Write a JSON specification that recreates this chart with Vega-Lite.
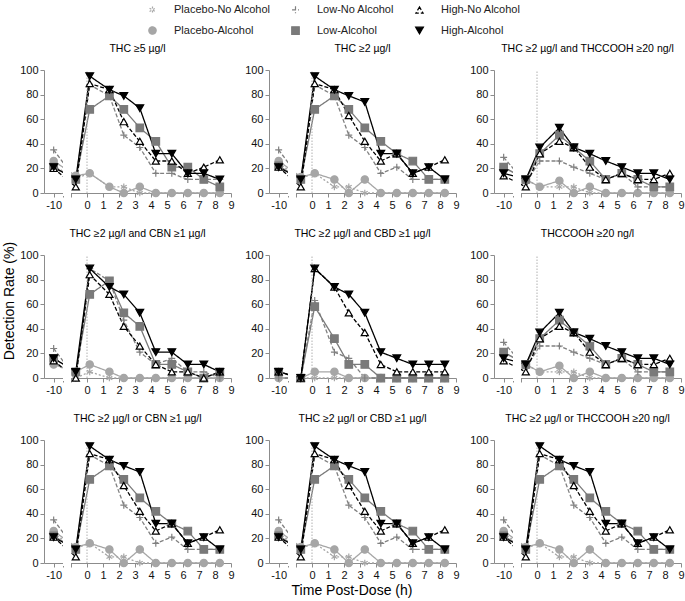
{
"$schema": "https://vega.github.io/schema/vega-lite/v6.json",
"background": "white",
"padding": {"left": 2, "top": 4, "right": 0, "bottom": 2},
"config": {
  "font": "Liberation Sans",
  "view": {"stroke": null},
  "axis": {"labelOverlap": false},
  "legend": {"orient": "none", "legendX": 102, "legendY": -66, "columns": 3, "direction": "horizontal", "labelFontSize": 11, "labelFont": "Liberation Sans", "labelColor": "#222", "columnPadding": 18, "rowPadding": 8, "symbolStrokeWidth": 1.2, "labelOffset": 16, "symbolOffset": 1}
},
"title": {"text": "Detection Rate (%)", "orient": "left", "anchor": "middle", "fontSize": 14, "fontWeight": "normal", "font": "Liberation Sans", "color": "#000", "offset": 3},
"data": {"values": [
{"panel":"THC ≥5 µg/l","t":-10,"Placebo-No Alcohol":22,"Placebo-Alcohol":26,"Low-No Alcohol":35,"Low-Alcohol":21,"High-No Alcohol":20,"High-Alcohol":21},
{"panel":"THC ≥5 µg/l","t":-0.7,"Placebo-No Alcohol":12,"Placebo-Alcohol":14,"Low-No Alcohol":11,"Low-Alcohol":11,"High-No Alcohol":5,"High-Alcohol":11},
{"panel":"THC ≥5 µg/l","t":0.17,"Placebo-No Alcohol":16,"Placebo-Alcohol":16,"Low-No Alcohol":88,"Low-Alcohol":68,"High-No Alcohol":89,"High-Alcohol":95},
{"panel":"THC ≥5 µg/l","t":1.4,"Placebo-No Alcohol":5,"Placebo-Alcohol":5,"Low-No Alcohol":79,"Low-Alcohol":79,"High-No Alcohol":84,"High-Alcohol":84},
{"panel":"THC ≥5 µg/l","t":2.3,"Placebo-No Alcohol":5,"Placebo-Alcohol":0,"Low-No Alcohol":47,"Low-Alcohol":68,"High-No Alcohol":58,"High-Alcohol":79},
{"panel":"THC ≥5 µg/l","t":3.3,"Placebo-No Alcohol":0,"Placebo-Alcohol":5,"Low-No Alcohol":37,"Low-Alcohol":53,"High-No Alcohol":42,"High-Alcohol":69},
{"panel":"THC ≥5 µg/l","t":4.3,"Placebo-No Alcohol":0,"Placebo-Alcohol":0,"Low-No Alcohol":16,"Low-Alcohol":42,"High-No Alcohol":26,"High-Alcohol":32},
{"panel":"THC ≥5 µg/l","t":5.3,"Placebo-No Alcohol":0,"Placebo-Alcohol":0,"Low-No Alcohol":16,"Low-Alcohol":21,"High-No Alcohol":26,"High-Alcohol":32},
{"panel":"THC ≥5 µg/l","t":6.3,"Placebo-No Alcohol":0,"Placebo-Alcohol":0,"Low-No Alcohol":11,"Low-Alcohol":21,"High-No Alcohol":16,"High-Alcohol":16},
{"panel":"THC ≥5 µg/l","t":7.3,"Placebo-No Alcohol":0,"Placebo-Alcohol":0,"Low-No Alcohol":11,"Low-Alcohol":11,"High-No Alcohol":21,"High-Alcohol":16},
{"panel":"THC ≥5 µg/l","t":8.3,"Placebo-No Alcohol":0,"Placebo-Alcohol":0,"Low-No Alcohol":11,"Low-Alcohol":5,"High-No Alcohol":27,"High-Alcohol":11},

{"panel":"THC ≥2 µg/l","t":-10,"Placebo-No Alcohol":24,"Placebo-Alcohol":26,"Low-No Alcohol":35,"Low-Alcohol":22,"High-No Alcohol":21,"High-Alcohol":21},
{"panel":"THC ≥2 µg/l","t":-0.7,"Placebo-No Alcohol":12,"Placebo-Alcohol":13,"Low-No Alcohol":11,"Low-Alcohol":11,"High-No Alcohol":5,"High-Alcohol":11},
{"panel":"THC ≥2 µg/l","t":0.17,"Placebo-No Alcohol":16,"Placebo-Alcohol":16,"Low-No Alcohol":88,"Low-Alcohol":68,"High-No Alcohol":89,"High-Alcohol":95},
{"panel":"THC ≥2 µg/l","t":1.4,"Placebo-No Alcohol":5,"Placebo-Alcohol":11,"Low-No Alcohol":79,"Low-Alcohol":79,"High-No Alcohol":84,"High-Alcohol":84},
{"panel":"THC ≥2 µg/l","t":2.3,"Placebo-No Alcohol":5,"Placebo-Alcohol":0,"Low-No Alcohol":47,"Low-Alcohol":68,"High-No Alcohol":63,"High-Alcohol":79},
{"panel":"THC ≥2 µg/l","t":3.3,"Placebo-No Alcohol":0,"Placebo-Alcohol":11,"Low-No Alcohol":37,"Low-Alcohol":53,"High-No Alcohol":42,"High-Alcohol":74},
{"panel":"THC ≥2 µg/l","t":4.3,"Placebo-No Alcohol":0,"Placebo-Alcohol":0,"Low-No Alcohol":16,"Low-Alcohol":42,"High-No Alcohol":26,"High-Alcohol":32},
{"panel":"THC ≥2 µg/l","t":5.3,"Placebo-No Alcohol":0,"Placebo-Alcohol":0,"Low-No Alcohol":21,"Low-Alcohol":32,"High-No Alcohol":32,"High-Alcohol":32},
{"panel":"THC ≥2 µg/l","t":6.3,"Placebo-No Alcohol":0,"Placebo-Alcohol":0,"Low-No Alcohol":11,"Low-Alcohol":26,"High-No Alcohol":16,"High-Alcohol":16},
{"panel":"THC ≥2 µg/l","t":7.3,"Placebo-No Alcohol":0,"Placebo-Alcohol":0,"Low-No Alcohol":11,"Low-Alcohol":11,"High-No Alcohol":21,"High-Alcohol":21},
{"panel":"THC ≥2 µg/l","t":8.3,"Placebo-No Alcohol":0,"Placebo-Alcohol":0,"Low-No Alcohol":11,"Low-Alcohol":11,"High-No Alcohol":27,"High-Alcohol":11},

{"panel":"THC ≥2 µg/l and THCCOOH ≥20 ng/l","t":-10,"Placebo-No Alcohol":21,"Placebo-Alcohol":21,"Low-No Alcohol":29,"Low-Alcohol":21,"High-No Alcohol":14,"High-Alcohol":16},
{"panel":"THC ≥2 µg/l and THCCOOH ≥20 ng/l","t":-0.7,"Placebo-No Alcohol":11,"Placebo-Alcohol":11,"Low-No Alcohol":8,"Low-Alcohol":11,"High-No Alcohol":5,"High-Alcohol":11},
{"panel":"THC ≥2 µg/l and THCCOOH ≥20 ng/l","t":0.17,"Placebo-No Alcohol":5,"Placebo-Alcohol":5,"Low-No Alcohol":26,"Low-Alcohol":32,"High-No Alcohol":32,"High-Alcohol":37},
{"panel":"THC ≥2 µg/l and THCCOOH ≥20 ng/l","t":1.4,"Placebo-No Alcohol":5,"Placebo-Alcohol":10,"Low-No Alcohol":26,"Low-Alcohol":47,"High-No Alcohol":42,"High-Alcohol":53},
{"panel":"THC ≥2 µg/l and THCCOOH ≥20 ng/l","t":2.3,"Placebo-No Alcohol":5,"Placebo-Alcohol":0,"Low-No Alcohol":21,"Low-Alcohol":37,"High-No Alcohol":37,"High-Alcohol":37},
{"panel":"THC ≥2 µg/l and THCCOOH ≥20 ng/l","t":3.3,"Placebo-No Alcohol":0,"Placebo-Alcohol":5,"Low-No Alcohol":16,"Low-Alcohol":26,"High-No Alcohol":21,"High-Alcohol":32},
{"panel":"THC ≥2 µg/l and THCCOOH ≥20 ng/l","t":4.3,"Placebo-No Alcohol":0,"Placebo-Alcohol":0,"Low-No Alcohol":11,"Low-Alcohol":11,"High-No Alcohol":11,"High-Alcohol":26},
{"panel":"THC ≥2 µg/l and THCCOOH ≥20 ng/l","t":5.3,"Placebo-No Alcohol":0,"Placebo-Alcohol":0,"Low-No Alcohol":16,"Low-Alcohol":16,"High-No Alcohol":16,"High-Alcohol":21},
{"panel":"THC ≥2 µg/l and THCCOOH ≥20 ng/l","t":6.3,"Placebo-No Alcohol":0,"Placebo-Alcohol":0,"Low-No Alcohol":5,"Low-Alcohol":11,"High-No Alcohol":11,"High-Alcohol":16},
{"panel":"THC ≥2 µg/l and THCCOOH ≥20 ng/l","t":7.3,"Placebo-No Alcohol":0,"Placebo-Alcohol":0,"Low-No Alcohol":5,"Low-Alcohol":5,"High-No Alcohol":11,"High-Alcohol":16},
{"panel":"THC ≥2 µg/l and THCCOOH ≥20 ng/l","t":8.3,"Placebo-No Alcohol":0,"Placebo-Alcohol":0,"Low-No Alcohol":5,"Low-Alcohol":5,"High-No Alcohol":16,"High-Alcohol":11},

{"panel":"THC ≥2 µg/l and CBN ≥1 µg/l","t":-10,"Placebo-No Alcohol":13,"Placebo-Alcohol":11,"Low-No Alcohol":24,"Low-Alcohol":16,"High-No Alcohol":14,"High-Alcohol":16},
{"panel":"THC ≥2 µg/l and CBN ≥1 µg/l","t":-0.7,"Placebo-No Alcohol":0,"Placebo-Alcohol":5,"Low-No Alcohol":0,"Low-Alcohol":5,"High-No Alcohol":0,"High-Alcohol":5},
{"panel":"THC ≥2 µg/l and CBN ≥1 µg/l","t":0.17,"Placebo-No Alcohol":5,"Placebo-Alcohol":11,"Low-No Alcohol":89,"Low-Alcohol":68,"High-No Alcohol":84,"High-Alcohol":89},
{"panel":"THC ≥2 µg/l and CBN ≥1 µg/l","t":1.4,"Placebo-No Alcohol":0,"Placebo-Alcohol":5,"Low-No Alcohol":79,"Low-Alcohol":79,"High-No Alcohol":68,"High-Alcohol":74},
{"panel":"THC ≥2 µg/l and CBN ≥1 µg/l","t":2.3,"Placebo-No Alcohol":0,"Placebo-Alcohol":0,"Low-No Alcohol":47,"Low-Alcohol":53,"High-No Alcohol":42,"High-Alcohol":68},
{"panel":"THC ≥2 µg/l and CBN ≥1 µg/l","t":3.3,"Placebo-No Alcohol":0,"Placebo-Alcohol":0,"Low-No Alcohol":21,"Low-Alcohol":42,"High-No Alcohol":26,"High-Alcohol":53},
{"panel":"THC ≥2 µg/l and CBN ≥1 µg/l","t":4.3,"Placebo-No Alcohol":0,"Placebo-Alcohol":0,"Low-No Alcohol":11,"Low-Alcohol":11,"High-No Alcohol":11,"High-Alcohol":21},
{"panel":"THC ≥2 µg/l and CBN ≥1 µg/l","t":5.3,"Placebo-No Alcohol":0,"Placebo-Alcohol":0,"Low-No Alcohol":16,"Low-Alcohol":11,"High-No Alcohol":5,"High-Alcohol":21},
{"panel":"THC ≥2 µg/l and CBN ≥1 µg/l","t":6.3,"Placebo-No Alcohol":0,"Placebo-Alcohol":0,"Low-No Alcohol":5,"Low-Alcohol":5,"High-No Alcohol":5,"High-Alcohol":11},
{"panel":"THC ≥2 µg/l and CBN ≥1 µg/l","t":7.3,"Placebo-No Alcohol":0,"Placebo-Alcohol":0,"Low-No Alcohol":5,"Low-Alcohol":0,"High-No Alcohol":0,"High-Alcohol":11},
{"panel":"THC ≥2 µg/l and CBN ≥1 µg/l","t":8.3,"Placebo-No Alcohol":0,"Placebo-Alcohol":0,"Low-No Alcohol":0,"Low-Alcohol":5,"High-No Alcohol":5,"High-Alcohol":5},

{"panel":"THC ≥2 µg/l and CBD ≥1 µg/l","t":-10,"Placebo-No Alcohol":0,"Placebo-Alcohol":0,"Low-No Alcohol":0,"Low-Alcohol":5,"High-No Alcohol":5,"High-Alcohol":5},
{"panel":"THC ≥2 µg/l and CBD ≥1 µg/l","t":-0.7,"Placebo-No Alcohol":0,"Placebo-Alcohol":0,"Low-No Alcohol":0,"Low-Alcohol":0,"High-No Alcohol":0,"High-Alcohol":0},
{"panel":"THC ≥2 µg/l and CBD ≥1 µg/l","t":0.17,"Placebo-No Alcohol":0,"Placebo-Alcohol":5,"Low-No Alcohol":63,"Low-Alcohol":58,"High-No Alcohol":89,"High-Alcohol":89},
{"panel":"THC ≥2 µg/l and CBD ≥1 µg/l","t":1.4,"Placebo-No Alcohol":0,"Placebo-Alcohol":5,"Low-No Alcohol":21,"Low-Alcohol":32,"High-No Alcohol":74,"High-Alcohol":74},
{"panel":"THC ≥2 µg/l and CBD ≥1 µg/l","t":2.3,"Placebo-No Alcohol":0,"Placebo-Alcohol":0,"Low-No Alcohol":16,"Low-Alcohol":11,"High-No Alcohol":53,"High-Alcohol":68},
{"panel":"THC ≥2 µg/l and CBD ≥1 µg/l","t":3.3,"Placebo-No Alcohol":0,"Placebo-Alcohol":0,"Low-No Alcohol":0,"Low-Alcohol":11,"High-No Alcohol":37,"High-Alcohol":53},
{"panel":"THC ≥2 µg/l and CBD ≥1 µg/l","t":4.3,"Placebo-No Alcohol":0,"Placebo-Alcohol":0,"Low-No Alcohol":0,"Low-Alcohol":0,"High-No Alcohol":11,"High-Alcohol":21},
{"panel":"THC ≥2 µg/l and CBD ≥1 µg/l","t":5.3,"Placebo-No Alcohol":0,"Placebo-Alcohol":0,"Low-No Alcohol":0,"Low-Alcohol":0,"High-No Alcohol":5,"High-Alcohol":16},
{"panel":"THC ≥2 µg/l and CBD ≥1 µg/l","t":6.3,"Placebo-No Alcohol":0,"Placebo-Alcohol":0,"Low-No Alcohol":0,"Low-Alcohol":0,"High-No Alcohol":5,"High-Alcohol":11},
{"panel":"THC ≥2 µg/l and CBD ≥1 µg/l","t":7.3,"Placebo-No Alcohol":0,"Placebo-Alcohol":0,"Low-No Alcohol":0,"Low-Alcohol":0,"High-No Alcohol":5,"High-Alcohol":11},
{"panel":"THC ≥2 µg/l and CBD ≥1 µg/l","t":8.3,"Placebo-No Alcohol":0,"Placebo-Alcohol":0,"Low-No Alcohol":0,"Low-Alcohol":0,"High-No Alcohol":5,"High-Alcohol":11},

{"panel":"THCCOOH ≥20 ng/l","t":-10,"Placebo-No Alcohol":21,"Placebo-Alcohol":21,"Low-No Alcohol":29,"Low-Alcohol":21,"High-No Alcohol":14,"High-Alcohol":16},
{"panel":"THCCOOH ≥20 ng/l","t":-0.7,"Placebo-No Alcohol":11,"Placebo-Alcohol":11,"Low-No Alcohol":8,"Low-Alcohol":11,"High-No Alcohol":5,"High-Alcohol":11},
{"panel":"THCCOOH ≥20 ng/l","t":0.17,"Placebo-No Alcohol":5,"Placebo-Alcohol":5,"Low-No Alcohol":26,"Low-Alcohol":32,"High-No Alcohol":32,"High-Alcohol":37},
{"panel":"THCCOOH ≥20 ng/l","t":1.4,"Placebo-No Alcohol":5,"Placebo-Alcohol":10,"Low-No Alcohol":26,"Low-Alcohol":47,"High-No Alcohol":42,"High-Alcohol":53},
{"panel":"THCCOOH ≥20 ng/l","t":2.3,"Placebo-No Alcohol":5,"Placebo-Alcohol":0,"Low-No Alcohol":21,"Low-Alcohol":37,"High-No Alcohol":37,"High-Alcohol":37},
{"panel":"THCCOOH ≥20 ng/l","t":3.3,"Placebo-No Alcohol":0,"Placebo-Alcohol":5,"Low-No Alcohol":16,"Low-Alcohol":26,"High-No Alcohol":21,"High-Alcohol":32},
{"panel":"THCCOOH ≥20 ng/l","t":4.3,"Placebo-No Alcohol":0,"Placebo-Alcohol":0,"Low-No Alcohol":11,"Low-Alcohol":11,"High-No Alcohol":11,"High-Alcohol":26},
{"panel":"THCCOOH ≥20 ng/l","t":5.3,"Placebo-No Alcohol":0,"Placebo-Alcohol":0,"Low-No Alcohol":16,"Low-Alcohol":16,"High-No Alcohol":16,"High-Alcohol":21},
{"panel":"THCCOOH ≥20 ng/l","t":6.3,"Placebo-No Alcohol":0,"Placebo-Alcohol":0,"Low-No Alcohol":5,"Low-Alcohol":11,"High-No Alcohol":11,"High-Alcohol":16},
{"panel":"THCCOOH ≥20 ng/l","t":7.3,"Placebo-No Alcohol":0,"Placebo-Alcohol":0,"Low-No Alcohol":5,"Low-Alcohol":5,"High-No Alcohol":11,"High-Alcohol":16},
{"panel":"THCCOOH ≥20 ng/l","t":8.3,"Placebo-No Alcohol":0,"Placebo-Alcohol":0,"Low-No Alcohol":5,"Low-Alcohol":5,"High-No Alcohol":16,"High-Alcohol":11},

{"panel":"THC ≥2 µg/l or CBN ≥1 µg/l","t":-10,"Placebo-No Alcohol":24,"Placebo-Alcohol":26,"Low-No Alcohol":35,"Low-Alcohol":22,"High-No Alcohol":21,"High-Alcohol":21},
{"panel":"THC ≥2 µg/l or CBN ≥1 µg/l","t":-0.7,"Placebo-No Alcohol":12,"Placebo-Alcohol":13,"Low-No Alcohol":11,"Low-Alcohol":11,"High-No Alcohol":5,"High-Alcohol":11},
{"panel":"THC ≥2 µg/l or CBN ≥1 µg/l","t":0.17,"Placebo-No Alcohol":16,"Placebo-Alcohol":16,"Low-No Alcohol":88,"Low-Alcohol":68,"High-No Alcohol":89,"High-Alcohol":95},
{"panel":"THC ≥2 µg/l or CBN ≥1 µg/l","t":1.4,"Placebo-No Alcohol":5,"Placebo-Alcohol":11,"Low-No Alcohol":79,"Low-Alcohol":79,"High-No Alcohol":84,"High-Alcohol":84},
{"panel":"THC ≥2 µg/l or CBN ≥1 µg/l","t":2.3,"Placebo-No Alcohol":5,"Placebo-Alcohol":0,"Low-No Alcohol":47,"Low-Alcohol":68,"High-No Alcohol":63,"High-Alcohol":79},
{"panel":"THC ≥2 µg/l or CBN ≥1 µg/l","t":3.3,"Placebo-No Alcohol":0,"Placebo-Alcohol":11,"Low-No Alcohol":37,"Low-Alcohol":53,"High-No Alcohol":42,"High-Alcohol":74},
{"panel":"THC ≥2 µg/l or CBN ≥1 µg/l","t":4.3,"Placebo-No Alcohol":0,"Placebo-Alcohol":0,"Low-No Alcohol":16,"Low-Alcohol":42,"High-No Alcohol":26,"High-Alcohol":32},
{"panel":"THC ≥2 µg/l or CBN ≥1 µg/l","t":5.3,"Placebo-No Alcohol":0,"Placebo-Alcohol":0,"Low-No Alcohol":21,"Low-Alcohol":32,"High-No Alcohol":32,"High-Alcohol":32},
{"panel":"THC ≥2 µg/l or CBN ≥1 µg/l","t":6.3,"Placebo-No Alcohol":0,"Placebo-Alcohol":0,"Low-No Alcohol":11,"Low-Alcohol":26,"High-No Alcohol":16,"High-Alcohol":16},
{"panel":"THC ≥2 µg/l or CBN ≥1 µg/l","t":7.3,"Placebo-No Alcohol":0,"Placebo-Alcohol":0,"Low-No Alcohol":11,"Low-Alcohol":11,"High-No Alcohol":21,"High-Alcohol":21},
{"panel":"THC ≥2 µg/l or CBN ≥1 µg/l","t":8.3,"Placebo-No Alcohol":0,"Placebo-Alcohol":0,"Low-No Alcohol":11,"Low-Alcohol":11,"High-No Alcohol":27,"High-Alcohol":11},

{"panel":"THC ≥2 µg/l or CBD ≥1 µg/l","t":-10,"Placebo-No Alcohol":24,"Placebo-Alcohol":26,"Low-No Alcohol":35,"Low-Alcohol":22,"High-No Alcohol":21,"High-Alcohol":21},
{"panel":"THC ≥2 µg/l or CBD ≥1 µg/l","t":-0.7,"Placebo-No Alcohol":12,"Placebo-Alcohol":13,"Low-No Alcohol":11,"Low-Alcohol":11,"High-No Alcohol":5,"High-Alcohol":11},
{"panel":"THC ≥2 µg/l or CBD ≥1 µg/l","t":0.17,"Placebo-No Alcohol":16,"Placebo-Alcohol":16,"Low-No Alcohol":88,"Low-Alcohol":68,"High-No Alcohol":89,"High-Alcohol":95},
{"panel":"THC ≥2 µg/l or CBD ≥1 µg/l","t":1.4,"Placebo-No Alcohol":5,"Placebo-Alcohol":11,"Low-No Alcohol":79,"Low-Alcohol":79,"High-No Alcohol":84,"High-Alcohol":84},
{"panel":"THC ≥2 µg/l or CBD ≥1 µg/l","t":2.3,"Placebo-No Alcohol":5,"Placebo-Alcohol":0,"Low-No Alcohol":47,"Low-Alcohol":68,"High-No Alcohol":63,"High-Alcohol":79},
{"panel":"THC ≥2 µg/l or CBD ≥1 µg/l","t":3.3,"Placebo-No Alcohol":0,"Placebo-Alcohol":11,"Low-No Alcohol":37,"Low-Alcohol":53,"High-No Alcohol":42,"High-Alcohol":74},
{"panel":"THC ≥2 µg/l or CBD ≥1 µg/l","t":4.3,"Placebo-No Alcohol":0,"Placebo-Alcohol":0,"Low-No Alcohol":16,"Low-Alcohol":42,"High-No Alcohol":26,"High-Alcohol":32},
{"panel":"THC ≥2 µg/l or CBD ≥1 µg/l","t":5.3,"Placebo-No Alcohol":0,"Placebo-Alcohol":0,"Low-No Alcohol":21,"Low-Alcohol":32,"High-No Alcohol":32,"High-Alcohol":32},
{"panel":"THC ≥2 µg/l or CBD ≥1 µg/l","t":6.3,"Placebo-No Alcohol":0,"Placebo-Alcohol":0,"Low-No Alcohol":11,"Low-Alcohol":26,"High-No Alcohol":16,"High-Alcohol":16},
{"panel":"THC ≥2 µg/l or CBD ≥1 µg/l","t":7.3,"Placebo-No Alcohol":0,"Placebo-Alcohol":0,"Low-No Alcohol":11,"Low-Alcohol":11,"High-No Alcohol":21,"High-Alcohol":21},
{"panel":"THC ≥2 µg/l or CBD ≥1 µg/l","t":8.3,"Placebo-No Alcohol":0,"Placebo-Alcohol":0,"Low-No Alcohol":11,"Low-Alcohol":11,"High-No Alcohol":27,"High-Alcohol":11},

{"panel":"THC ≥2 µg/l or THCCOOH ≥20 ng/l","t":-10,"Placebo-No Alcohol":24,"Placebo-Alcohol":26,"Low-No Alcohol":35,"Low-Alcohol":22,"High-No Alcohol":21,"High-Alcohol":21},
{"panel":"THC ≥2 µg/l or THCCOOH ≥20 ng/l","t":-0.7,"Placebo-No Alcohol":12,"Placebo-Alcohol":13,"Low-No Alcohol":11,"Low-Alcohol":11,"High-No Alcohol":5,"High-Alcohol":11},
{"panel":"THC ≥2 µg/l or THCCOOH ≥20 ng/l","t":0.17,"Placebo-No Alcohol":16,"Placebo-Alcohol":16,"Low-No Alcohol":88,"Low-Alcohol":68,"High-No Alcohol":89,"High-Alcohol":95},
{"panel":"THC ≥2 µg/l or THCCOOH ≥20 ng/l","t":1.4,"Placebo-No Alcohol":5,"Placebo-Alcohol":11,"Low-No Alcohol":79,"Low-Alcohol":79,"High-No Alcohol":84,"High-Alcohol":84},
{"panel":"THC ≥2 µg/l or THCCOOH ≥20 ng/l","t":2.3,"Placebo-No Alcohol":5,"Placebo-Alcohol":0,"Low-No Alcohol":47,"Low-Alcohol":68,"High-No Alcohol":63,"High-Alcohol":79},
{"panel":"THC ≥2 µg/l or THCCOOH ≥20 ng/l","t":3.3,"Placebo-No Alcohol":0,"Placebo-Alcohol":11,"Low-No Alcohol":37,"Low-Alcohol":53,"High-No Alcohol":42,"High-Alcohol":74},
{"panel":"THC ≥2 µg/l or THCCOOH ≥20 ng/l","t":4.3,"Placebo-No Alcohol":0,"Placebo-Alcohol":0,"Low-No Alcohol":16,"Low-Alcohol":42,"High-No Alcohol":26,"High-Alcohol":32},
{"panel":"THC ≥2 µg/l or THCCOOH ≥20 ng/l","t":5.3,"Placebo-No Alcohol":0,"Placebo-Alcohol":0,"Low-No Alcohol":21,"Low-Alcohol":32,"High-No Alcohol":32,"High-Alcohol":32},
{"panel":"THC ≥2 µg/l or THCCOOH ≥20 ng/l","t":6.3,"Placebo-No Alcohol":0,"Placebo-Alcohol":0,"Low-No Alcohol":11,"Low-Alcohol":26,"High-No Alcohol":16,"High-Alcohol":16},
{"panel":"THC ≥2 µg/l or THCCOOH ≥20 ng/l","t":7.3,"Placebo-No Alcohol":0,"Placebo-Alcohol":0,"Low-No Alcohol":11,"Low-Alcohol":11,"High-No Alcohol":21,"High-Alcohol":21},
{"panel":"THC ≥2 µg/l or THCCOOH ≥20 ng/l","t":8.3,"Placebo-No Alcohol":0,"Placebo-Alcohol":0,"Low-No Alcohol":11,"Low-Alcohol":11,"High-No Alcohol":27,"High-Alcohol":11}
]},
"transform": [{"fold": ["Placebo-No Alcohol", "Placebo-Alcohol", "Low-No Alcohol", "Low-Alcohol", "High-No Alcohol", "High-Alcohol"], "as": ["series", "value"]}],
"facet": {"field": "panel", "type": "nominal",
  "sort": ["THC ≥5 µg/l", "THC ≥2 µg/l", "THC ≥2 µg/l and THCCOOH ≥20 ng/l", "THC ≥2 µg/l and CBN ≥1 µg/l", "THC ≥2 µg/l and CBD ≥1 µg/l", "THCCOOH ≥20 ng/l", "THC ≥2 µg/l or CBN ≥1 µg/l", "THC ≥2 µg/l or CBD ≥1 µg/l", "THC ≥2 µg/l or THCCOOH ≥20 ng/l"],
  "title": "Time Post-Dose (h)",
  "header": {"labelFont": "Liberation Sans", "labelFontSize": 10.5, "labelColor": "#000", "labelPadding": 10, "titleOrient": "bottom", "titleFont": "Liberation Sans", "titleFontSize": 14, "titleFontWeight": "normal", "titleColor": "#000", "titlePadding": 4}},
"columns": 3,
"spacing": {"row": 18, "column": 9},
"resolve": {"axis": {"x": "independent", "y": "independent"}},
"spec": {
  "width": 187,
  "height": 123,
  "layer": [
    {"mark": {"type": "line", "strokeWidth": 1.3},
     "encoding": {
       "x": {"field": "t", "type": "quantitative",
             "scale": {"domain": [-10.6, -9.42, -1.0, 9], "range": [0, 19, 27, 187], "nice": false, "zero": false},
             "axis": {"values": [-10, -9.42, -1, 0, 1, 2, 3, 4, 5, 6, 7, 8, 9], "tickCount": 20, "labelExpr": "datum.value == -10 ? '-10' : (datum.value < -0.5 ? '' : datum.label)", "title": null, "grid": false, "domainColor": "#8c8c8c", "tickColor": "#8c8c8c", "tickSize": 4, "labelFontSize": 11, "labelColor": "#111", "labelPadding": 2, "labelOverlap": false, "labelFlush": false}},
       "y": {"field": "value", "type": "quantitative",
             "scale": {"domain": [0, 100], "nice": false},
             "axis": {"values": [0, 20, 40, 60, 80, 100], "tickCount": 10, "title": null, "grid": false, "domainColor": "#8c8c8c", "tickColor": "#8c8c8c", "tickSize": 4, "labelFontSize": 11, "labelColor": "#111", "labelPadding": 2, "labelOverlap": false}},
       "stroke": {"field": "series", "type": "nominal", "title": null,
                  "scale": {"domain": ["Placebo-No Alcohol", "Low-No Alcohol", "High-No Alcohol", "Placebo-Alcohol", "Low-Alcohol", "High-Alcohol"], "range": ["#a6a6a6", "#808080", "#000000", "#a6a6a6", "#7a7a7a", "#000000"]}},
       "strokeDash": {"field": "series", "type": "nominal", "title": null,
                  "scale": {"domain": ["Placebo-No Alcohol", "Low-No Alcohol", "High-No Alcohol", "Placebo-Alcohol", "Low-Alcohol", "High-Alcohol"], "range": [[2, 2], [4, 2], [4, 2], [1, 0], [1, 0], [1, 0]]}}
     }},
    {"transform": [{"filter": "datum.series === 'High-Alcohol' && datum.t === 0.17"}],
     "mark": {"type": "rect", "fill": "white"},
     "encoding": {"x": {"datum": -9.42}, "x2": {"datum": -1.0}, "y": {"datum": -2.5}, "y2": {"datum": 102}}},
    {"transform": [{"filter": "datum.series === 'High-Alcohol' && datum.t === 0.17"}],
     "mark": {"type": "rule", "stroke": "#b0b0b0", "strokeDash": [1.5, 1.5], "strokeWidth": 1},
     "encoding": {"x": {"datum": 0}, "y": {"datum": 0}, "y2": {"datum": 100}}},
    {"mark": {"type": "point", "opacity": 1, "strokeWidth": 1.2},
     "encoding": {
       "x": {"field": "t", "type": "quantitative"},
       "y": {"field": "value", "type": "quantitative"},
       "stroke": {"field": "series", "type": "nominal", "title": null},
       "fill": {"field": "series", "type": "nominal", "title": null,
                "scale": {"domain": ["Placebo-No Alcohol", "Low-No Alcohol", "High-No Alcohol", "Placebo-Alcohol", "Low-Alcohol", "High-Alcohol"], "range": ["transparent", "transparent", "#ffffff", "#a6a6a6", "#7a7a7a", "#000000"]}},
       "shape": {"field": "series", "type": "nominal", "title": null,
                "scale": {"domain": ["Placebo-No Alcohol", "Low-No Alcohol", "High-No Alcohol", "Placebo-Alcohol", "Low-Alcohol", "High-Alcohol"], "range": ["M0,-1L0,1M-0.87,-0.5L0.87,0.5M-0.87,0.5L0.87,-0.5", "M-1,0L1,0M0,-1L0,1", "triangle-up", "circle", "square", "triangle-down"]}},
       "size": {"field": "series", "type": "nominal", "title": null,
                "scale": {"domain": ["Placebo-No Alcohol", "Low-No Alcohol", "High-No Alcohol", "Placebo-Alcohol", "Low-Alcohol", "High-Alcohol"], "range": [45, 60, 60, 30, 30, 60]}}
     }}
  ]
}
}
